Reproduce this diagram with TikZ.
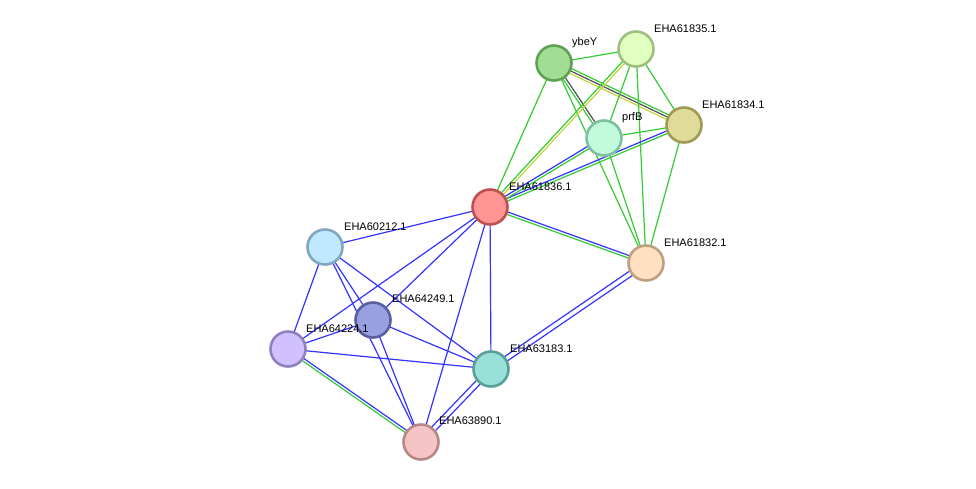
\documentclass[tikz,border=0pt]{standalone}
\usepackage{fontspec}
\setmainfont{Liberation Sans}
\usetikzlibrary{calc,backgrounds}
\pgfdeclarelayer{edges}
\pgfsetlayers{background,edges,main}
\definecolor{eg}{HTML}{33CC33}
\definecolor{eb}{HTML}{3333FF}
\definecolor{ey}{HTML}{C8D43C}
\definecolor{ek}{HTML}{505050}
\tikzset{
  prot/.style={circle,minimum size=35pt,inner sep=0pt,line width=2.6pt},
  lbl/.style={anchor=west,font=\fontsize{11}{12}\selectfont,inner sep=0pt},
  edg/.style={line width=1.2pt},
}
\newcommand\eone[3]{\draw[edg,#3] (#1.center) -- (#2.center);}
\newcommand\etwo[5][1.3pt]{%
  \draw[edg,#4] ($(#2)!#1!90:(#3)$) -- ($(#3)!#1!-90:(#2)$);
  \draw[edg,#5] ($(#2)!#1!-90:(#3)$) -- ($(#3)!#1!90:(#2)$);}
\newcommand\ethree[5]{%
  \draw[edg,#3] ($(#1)!2.5pt!90:(#2)$) -- ($(#2)!2.5pt!-90:(#1)$);
  \draw[edg,#4] (#1.center) -- (#2.center);
  \draw[edg,#5] ($(#1)!2.5pt!-90:(#2)$) -- ($(#2)!2.5pt!90:(#1)$);}
\begin{document}
\begin{tikzpicture}[x=1pt,y=-1pt]
\begin{pgfonlayer}{background}
\fill[white] (0,0) rectangle (976,488);
\end{pgfonlayer}
\useasboundingbox (0,0) rectangle (976,488);
% nodes
\node[prot,fill={rgb,255:red,161;green,222;blue,147},draw={rgb,255:red,95;green,160;blue,85}] (ybeY) at (554,63) {};
\node[prot,fill={rgb,255:red,224;green,255;blue,192},draw={rgb,255:red,160;green,192;blue,128}] (n835) at (636,49) {};
\node[prot,fill={rgb,255:red,223;green,219;blue,152},draw={rgb,255:red,159;green,155;blue,85}] (n834) at (684,125) {};
\node[prot,fill={rgb,255:red,194;green,250;blue,220},draw={rgb,255:red,128;green,192;blue,160}] (prfB) at (604,138) {};
\node[prot,fill={rgb,255:red,255;green,148;blue,148},draw={rgb,255:red,192;green,80;blue,80}] (n836) at (490,207) {};
\node[prot,fill={rgb,255:red,255;green,224;blue,194},draw={rgb,255:red,192;green,160;blue,128}] (n832) at (646,263) {};
\node[prot,fill={rgb,255:red,192;green,232;blue,255},draw={rgb,255:red,128;green,168;blue,192}] (n212) at (325,247) {};
\node[prot,fill={rgb,255:red,152;green,160;blue,224},draw={rgb,255:red,88;green,96;blue,160}] (n249) at (373,320) {};
\node[prot,fill={rgb,255:red,208;green,192;blue,255},draw={rgb,255:red,144;green,128;blue,192}] (n224) at (288,349) {};
\node[prot,fill={rgb,255:red,153;green,224;blue,216},draw={rgb,255:red,90;green,159;blue,152}] (n183) at (491,369) {};
\node[prot,fill={rgb,255:red,245;green,197;blue,197},draw={rgb,255:red,184;green,136;blue,136}] (n890) at (421,442) {};
% labels
\node[lbl] (l1) at (572,43) {ybeY};
\node[lbl] (l2) at (654,29) {EHA61835.1};
\node[lbl] (l3) at (702,105) {EHA61834.1};
\node[lbl] (l4) at (622,118) {prfB};
\node[lbl] (l5) at (509,187) {EHA61836.1};
\node[lbl] (l6) at (664,243) {EHA61832.1};
\node[lbl] (l7) at (344,227) {EHA60212.1};
\node[lbl] (l8) at (392,299) {EHA64249.1};
\node[lbl] (l9) at (306,329) {EHA64224.1};
\node[lbl] (l10) at (510,349) {EHA63183.1};
\node[lbl] (l11) at (439,421) {EHA63890.1};
\begin{pgfonlayer}{edges}
\eone{ybeY}{n835}{eg}
\ethree{ybeY}{n834}{eg}{ek}{ey}
\etwo{ybeY}{prfB}{ek}{eg}
\eone{ybeY}{n836}{eg}
\eone{ybeY}{n832}{eg}
\eone{n835}{n834}{eg}
\eone{n835}{prfB}{eg}
\etwo{n835}{n836}{ey}{eg}
\eone{n835}{n832}{eg}
\eone{n834}{prfB}{eg}
\etwo{n834}{n836}{eg}{eb}
\eone{n834}{n832}{eg}
\etwo{prfB}{n836}{eg}{eb}
\eone{prfB}{n832}{eg}
\etwo{n836}{n832}{eb}{eg}
\eone{n836}{n212}{eb}
\eone{n836}{n249}{eb}
\eone{n836}{n224}{eb}
\eone{n836}{n183}{eb}
\eone{n836}{n890}{eb}
\eone{n212}{n224}{eb}
\eone{n212}{n249}{eb}
\eone{n212}{n183}{eb}
\eone{n212}{n890}{eb}
\eone{n249}{n224}{eb}
\eone{n249}{n183}{eb}
\eone{n249}{n890}{eb}
\eone{n224}{n183}{eb}
\etwo{n224}{n890}{eb}{eg}
\etwo[2.6pt]{n183}{n890}{eb}{eb}
\etwo[2.6pt]{n183}{n832}{eb}{eb}
\end{pgfonlayer}
\end{tikzpicture}
\end{document}
